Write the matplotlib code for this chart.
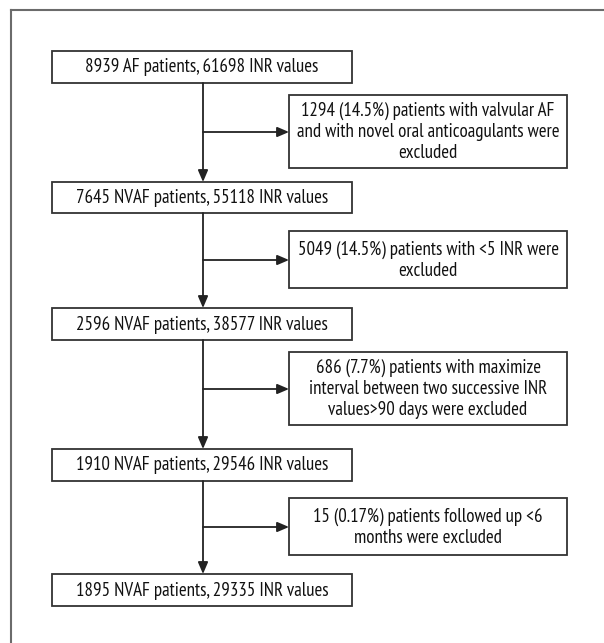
import matplotlib
matplotlib.use("Agg")
import matplotlib.pyplot as plt
from matplotlib.patches import Rectangle

# ---- data ----
main_steps = [
    "8939 AF patients, 61698 INR values",
    "7645 NVAF patients, 55118 INR values",
    "2596 NVAF patients, 38577 INR values",
    "1910 NVAF patients, 29546 INR values",
    "1895 NVAF patients, 29335 INR values",
]
exclusions = [
    "1294 (14.5%) patients with valvular AF\nand with novel oral anticoagulants were\nexcluded",
    "5049 (14.5%) patients with <5 INR were\nexcluded",
    "686 (7.7%) patients with maximize\ninterval between two successive INR\nvalues>90 days were excluded",
    "15 (0.17%) patients followed up <6\nmonths were excluded",
]

# ---- layout (pixel coordinates) ----
W, H = 604, 643
main_x0, main_x1 = 52, 352
main_y = [(51, 83), (182, 213), (308, 340), (449, 481), (574, 606)]
side_x0, side_x1 = 289, 567
side_y = [(95, 168), (231, 288), (352, 425), (498, 555)]
arrow_y = [132, 260, 389, 527]
line_x = 203

family = ["PT Sans Narrow", "DejaVu Sans"]

fig = plt.figure(figsize=(W / 100, H / 100), dpi=100)
ax = fig.add_axes([0, 0, 1, 1])
ax.set_xlim(0, W)
ax.set_ylim(H, 0)
ax.axis("off")

# outer frame (left and top only visible)
ax.plot([11, 11], [H + 5, 9.5], color="#6b6b6b", lw=1.5)
ax.plot([11, W + 5], [9.5, 9.5], color="#6b6b6b", lw=1.5)

ec = "#333333"
fs = 13.6
for txt, (y0, y1) in zip(main_steps, main_y):
    ax.add_patch(Rectangle((main_x0, y0), main_x1 - main_x0, y1 - y0,
                           fill=False, ec=ec, lw=1.3))
    ax.text((main_x0 + main_x1) / 2, (y0 + y1) / 2 + 0.5, txt, ha="center", va="center",
            fontsize=fs, family=family, color="#111111")

for txt, (y0, y1) in zip(exclusions, side_y):
    ax.add_patch(Rectangle((side_x0, y0), side_x1 - side_x0, y1 - y0,
                           fill=False, ec=ec, lw=1.3))
    ax.text((side_x0 + side_x1) / 2, (y0 + y1) / 2 + 0.5, txt, ha="center", va="center",
            fontsize=fs, family=family, color="#111111", linespacing=1.2)

arrow_kw = dict(arrowstyle="-|>,head_length=0.7,head_width=0.3", color="#222222",
                lw=1.3, shrinkA=0, shrinkB=0)
# vertical arrows between main boxes
for i in range(len(main_y) - 1):
    ax.annotate("", xy=(line_x, main_y[i + 1][0]), xytext=(line_x, main_y[i][1]),
                arrowprops=arrow_kw)
# horizontal arrows to exclusion boxes
for ay in arrow_y:
    ax.annotate("", xy=(side_x0, ay), xytext=(line_x, ay), arrowprops=arrow_kw)

fig.savefig("out.png", dpi=100, facecolor="white")
